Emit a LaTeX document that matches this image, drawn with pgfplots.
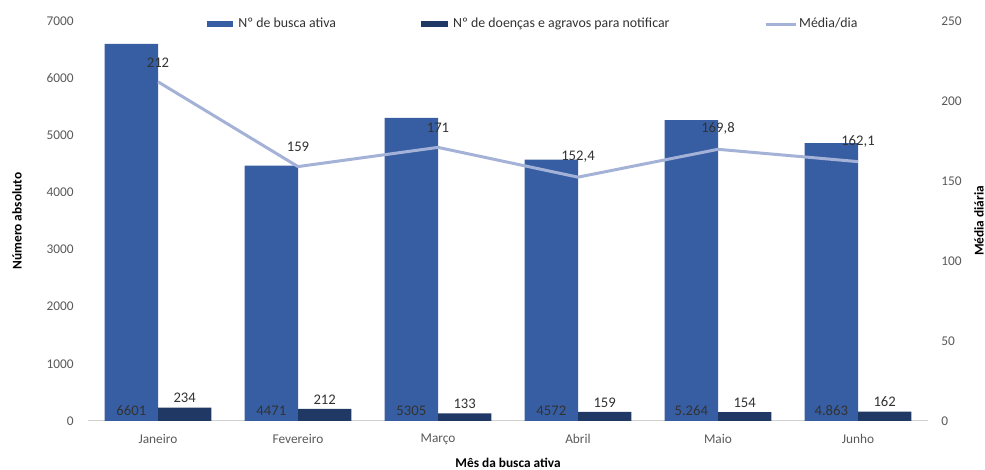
\documentclass[border=0pt]{standalone}
\usepackage{fontspec}
\setmainfont{Carlito}
\usepackage{pgfplots}
\pgfplotsset{compat=1.18}
\definecolor{barA}{RGB}{55,94,163}
\definecolor{barB}{RGB}{31,56,100}
\definecolor{lineC}{RGB}{165,178,216}
\definecolor{tickgray}{RGB}{89,89,89}
\definecolor{labgray}{RGB}{50,50,50}
\begin{document}
\begin{tikzpicture}[x=1pt,y=1pt]
\useasboundingbox (0,0) rectangle (738.75,352.5);
\begin{axis}[
  at={(66pt,36.75pt)}, anchor=south west,
  scale only axis, width=630pt, height=300pt,
  clip=false,
  xmin=-0.5, xmax=5.5, ymin=0, ymax=7000,
  ytick={0,1000,...,7000},
  xtick={0,...,5},
  xticklabels={Janeiro,Fevereiro,Março,Abril,Maio,Junho},
  axis x line*=bottom, axis y line*=left,
  x axis line style={draw=gray!35, line width=0.75pt, -},
  y axis line style={draw=none},
  major tick length=0pt,
  tick label style={font=\fontsize{10}{12}\selectfont, text=tickgray},
  /pgf/number format/assume math mode=true,
  /pgf/number format/1000 sep={},
  yticklabel style={inner sep=0pt, xshift=-10.5pt},
  xticklabel style={inner sep=0pt, yshift=-9.5pt},
  ylabel={Número absoluto},
  xlabel={Mês da busca ativa},
  label style={font=\bfseries\fontsize{10}{12}\selectfont, text=black},
  ylabel style={at={(axis description cs:-0.0845,0.5)}, anchor=center},
  xlabel style={at={(axis description cs:0.5,-0.105)}, anchor=center},
  legend style={at={(axis description cs:0.137,0.9925)}, anchor=west, draw=none, fill=none, inner sep=0pt,
    legend columns=3, font=\fontsize{10.4}{12}\selectfont, text=labgray,
    /tikz/column 2/.style={column sep=60pt},
    /tikz/column 4/.style={column sep=70pt},
    nodes={inner sep=1.5pt}},
  legend cell align=left,
]
\addplot[ybar, bar width=40pt, bar shift=-20pt, fill=barA, draw=none, forget plot]
  coordinates {(0,6601) (1,4471) (2,5305) (3,4572) (4,5264) (5,4863)};
\addplot[ybar, bar width=40pt, bar shift=20pt, fill=barB, draw=none, forget plot,
  point meta=explicit symbolic, nodes near coords,
  every node near coord/.append style={font=\fontsize{11}{13}\selectfont, text=labgray, anchor=south, xshift=20pt, inner sep=3.33pt}]
  coordinates {(0,234)[234] (1,212)[212] (2,133)[133] (3,159)[159] (4,154)[154] (5,162)[162]};
\addplot[ybar, bar width=40pt, bar shift=-20pt, draw=none, fill=none, forget plot,
  point meta=explicit symbolic, nodes near coords,
  every node near coord/.append style={font=\fontsize{11}{13}\selectfont, text=labgray, anchor=south, xshift=-20pt, yshift=0.5pt, inner sep=3.33pt}]
  coordinates {(0,0)[6601] (1,0)[4471] (2,0)[5305] (3,0)[4572] (4,0)[5.264] (5,0)[4.863]};
\addlegendimage{legend image code/.code={\draw[barA, line width=4.8pt] (0pt,0pt) -- (20pt,0pt);}}
\addlegendentry{Nº de busca ativa}
\addlegendimage{legend image code/.code={\draw[barB, line width=4.8pt] (0pt,0pt) -- (20pt,0pt);}}
\addlegendentry{Nº de doenças e agravos para notificar}
\addlegendimage{legend image code/.code={\draw[lineC, line width=2.25pt] (0pt,0pt) -- (22pt,0pt);}}
\addlegendentry{Média/dia}
\end{axis}
\begin{axis}[
  at={(66pt,36.75pt)}, anchor=south west,
  scale only axis, width=630pt, height=300pt,
  clip=false,
  xmin=-0.5, xmax=5.5, ymin=0, ymax=250,
  ytick={0,50,...,250},
  axis x line=none, axis y line*=right,
  y axis line style={draw=none},
  major tick length=0pt,
  tick label style={font=\fontsize{10}{12}\selectfont, text=tickgray},
  /pgf/number format/assume math mode=true,
  yticklabel style={inner sep=0pt, xshift=9.75pt},
  ylabel={Média diária},
  label style={font=\bfseries\fontsize{10}{12}\selectfont, text=black},
  ylabel style={at={(axis description cs:1.0607,0.5)}, anchor=center},
]
\addplot[lineC, line width=2.25pt, mark=none, line join=round,
  point meta=explicit symbolic, nodes near coords,
  every node near coord/.append style={font=\fontsize{11}{13}\selectfont, text=labgray, anchor=south, yshift=6.5pt}]
  coordinates {(0,212)[212] (1,159)[159] (2,171)[171] (3,152.4)[152,4] (4,169.8)[169,8] (5,162.1)[162,1]};
\end{axis}
\end{tikzpicture}
\end{document}
